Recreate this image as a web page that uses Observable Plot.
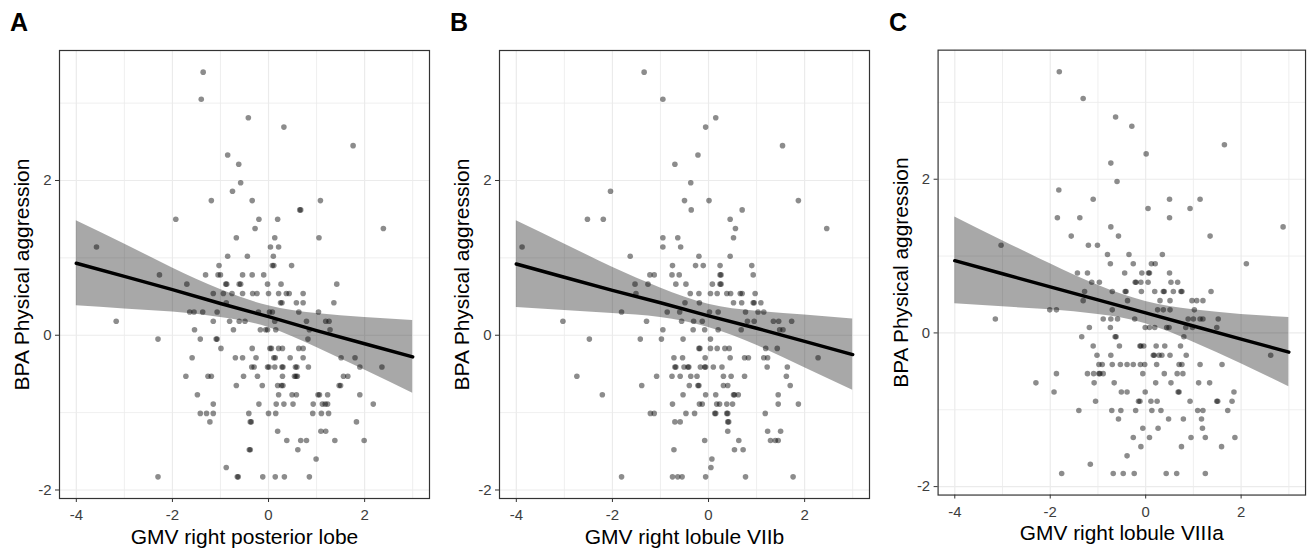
<!DOCTYPE html>
<html>
<head>
<meta charset="utf-8">
<script src="https://cdn.jsdelivr.net/npm/d3@7"></script>
<script src="https://cdn.jsdelivr.net/npm/@observablehq/plot@0.6"></script>
<style>
  html, body { margin: 0; padding: 0; background: #fff; overflow: hidden; }
  #wrap { position: relative; width: 1311px; height: 549px; font-family: "Liberation Sans", Arial, Helvetica, sans-serif; }
  .panel { position: absolute; top: 0; }
  .letter { position: absolute; top: 10px; font-size: 25px; font-weight: bold; line-height: 1; color: #000; }
</style>
</head>
<body>
<div id="wrap"></div>
<script>
// Shared y levels (BPA Physical aggression, same subjects in all panels)
const yLevels = [3.40, 3.05, 2.81, 2.69, 2.45, 2.33, 2.21, 1.97, 1.86, 1.74, 1.62, 1.50, 1.38, 1.26, 1.14, 1.02, 0.90, 0.78, 0.66, 0.54, 0.42, 0.30, 0.18, 0.07, -0.05, -0.17, -0.29, -0.41, -0.53, -0.65, -0.77, -0.89, -1.01, -1.12, -1.24, -1.36, -1.48, -1.60, -1.71, -1.83];

// Panel A: x values per y level (GMV right posterior lobe)
const xA = [
  [-1.36], [-1.40], [-0.42], [0.32], [1.76], [-0.85], [-0.62], [-0.58], [-0.75],
  [-1.19, -0.34, 1.08],
  [0.65, 0.67],
  [-1.93, -0.20, 0.19],
  [-0.28, 2.39],
  [-0.67, 0.13, 1.05],
  [-3.58, 0.04, 0.21],
  [-0.85, -0.44, 0.10],
  [-1.03, 0.08, 0.11, 0.48],
  [-2.27, -1.31, -1.05, -1.00, -0.54, -0.34, -0.10],
  [-1.70, -0.89, -0.87, -0.61, -0.58, -0.02, 0.26, 1.42],
  [-1.15, -0.94, -0.76, -0.54, -0.33, -0.24, 0.00, 0.21, 0.37, 0.43, 0.72],
  [-0.88, 0.25, 0.28, 0.58, 0.72, 1.36],
  [-1.64, -1.55, -1.37, -1.07, -0.21, 0.02, 0.08, 0.63, 1.04],
  [-3.17, -1.15, -0.81, -0.61, -0.49, 0.13, 0.79, 1.19, 1.26],
  [-1.54, -0.73, -0.17, -0.06, -0.02, 0.15, 0.85, 1.28],
  [-2.30, -1.42, -1.09, -1.07, 0.82],
  [-0.99, -0.34, 0.03, 0.06, 0.21, 0.29, 0.63, 0.72],
  [-1.59, -0.69, -0.54, -0.26, 0.11, 0.14, 0.45, 0.72, 1.51, 1.80],
  [-0.35, -0.30, -0.02, 0.01, 0.13, 0.28, 0.30, 0.56, 0.59, 0.83, 1.90, 2.36],
  [-1.72, -1.26, -1.19, -0.52, -0.23, 0.29, 0.54, 0.57, 0.60, 1.56, 1.65],
  [-0.67, -0.13, 0.19, 0.27, 0.30, 1.47, 1.50],
  [-1.48, 0.21, 0.49, 0.58, 1.03, 1.06, 1.23, 1.90],
  [-1.15, -0.20, 0.16, 0.32, 0.51, 0.93, 1.12, 1.18, 1.23, 2.18],
  [-1.42, -1.29, -1.15, -0.41, 0.00, 0.15, 0.92, 1.10, 1.25],
  [-1.22, -0.38, -0.36, 1.83],
  [0.19, 1.09, 1.19],
  [0.38, 0.67, 0.79, 1.38, 1.99],
  [-0.40, -0.38, 0.61],
  [0.99],
  [-0.88],
  [-2.30, -0.65, -0.63, -0.12, 0.14, 0.33, 0.85]
];

// Panel B: x values per y level (GMV right lobule VIIb)
const xB = [
  [-1.34], [-0.95], [0.15], [-0.06], [1.54], [-0.22], [-0.70], [-0.37], [-2.04],
  [-0.50, 0.01, 1.87],
  [-0.36, 0.70],
  [-2.52, -2.19, 0.45],
  [0.56, 2.46],
  [-0.95, -0.64, 0.52],
  [-3.88, -0.95, -0.58],
  [-1.63, -0.20, 0.45],
  [-0.75, -0.27, -0.11, 0.24, 0.90],
  [-1.22, -1.13, -0.76, -0.61, 0.24, 0.26, 0.93],
  [-1.53, -1.26, -0.68, -0.47, 0.08, 0.24, 0.26],
  [-1.51, -0.38, -0.20, 0.04, 0.18, 0.38, 0.46, 0.66, 0.70, 0.97],
  [-0.49, -0.19, 0.52, 0.69, 0.93, 0.95, 1.09],
  [-1.81, -0.86, -0.60, 0.02, 0.20, 0.77, 1.03, 1.15],
  [-3.03, -1.29, -0.56, -0.31, -0.13, 0.81, 0.95, 1.35, 1.46, 1.73],
  [-0.95, -0.32, -0.08, 0.20, 0.68, 1.48, 1.55],
  [-2.48, -1.42, -0.98, -0.53, 0.04],
  [-0.20, -0.18, 0.04, 0.18, 0.34, 0.43, 1.19, 1.43],
  [-0.72, -0.54, -0.07, 0.45, 0.75, 0.83, 1.15, 1.23, 2.28],
  [-0.70, -0.68, -0.51, -0.43, -0.41, -0.17, -0.08, -0.06, 0.10, 0.28, 1.22, 1.64],
  [-2.74, -1.08, -0.76, -0.59, -0.37, -0.24, 0.31, 0.47, 0.75, 1.62],
  [-1.39, -0.40, -0.22, -0.20, 0.31, 0.40, 1.70],
  [-2.21, -0.53, -0.06, 0.15, 0.52, 0.54, 0.62, 1.45],
  [-0.75, -0.19, -0.13, 0.17, 0.23, 0.38, 0.50, 1.45, 1.87],
  [-1.21, -1.13, -0.47, -0.29, 0.13, 0.15, 0.38, 0.40, 1.18],
  [-0.70, -0.59, 0.40, 0.42],
  [0.40, 1.23, 1.50],
  [-0.08, 0.63, 1.29, 1.39, 1.45],
  [-0.72, 0.54, 0.72],
  [0.07],
  [0.05],
  [-1.81, -0.75, -0.64, -0.55, -0.06, 0.77, 1.76]
];

// Panel C: x values per y level (GMV right lobule VIIIa)
const xC = [
  [-1.81], [-1.31], [-0.63], [-0.29], [1.65], [0.01], [-0.73], [-0.60], [-1.82],
  [-1.10, 0.50, 1.14],
  [0.05, 0.93],
  [-1.85, -1.38, 0.50],
  [-0.73, 2.88],
  [-1.56, -0.57, 1.35],
  [-3.03, -1.20, -1.01],
  [-0.80, -0.35, 0.35],
  [-0.74, -0.26, 0.12, 0.20, 2.11],
  [-1.43, -1.22, -0.44, -0.08, 0.06, 0.08, 0.50],
  [-1.13, -0.97, -0.22, -0.20, -0.10, 0.05, 0.53, 0.67],
  [-1.28, -0.70, -0.43, -0.41, -0.09, 0.19, 0.37, 0.39, 0.58, 0.74, 0.76, 1.37],
  [-1.31, -0.38, 0.30, 0.51, 0.97, 1.07, 1.20],
  [-2.01, -1.87, -0.70, 0.25, 0.37, 0.51, 1.02],
  [-3.15, -0.89, -0.73, -0.59, -0.23, 0.89, 1.00, 1.14, 1.20, 1.52],
  [-1.18, -0.74, -0.01, 0.08, 0.19, 0.44, 0.49, 0.84, 0.98, 1.49],
  [-1.34, -0.64, -0.62, 0.80],
  [-1.10, -0.55, -0.12, -0.10, -0.04, 0.22, 0.40, 0.73],
  [-1.02, -0.73, 0.16, 0.18, 0.28, 0.34, 0.51, 0.85, 2.62],
  [-0.98, -0.91, -0.70, -0.53, -0.39, -0.26, -0.11, -0.02, 0.23, 0.70, 0.76, 1.14, 1.60],
  [-1.87, -1.22, -1.09, -0.98, -0.96, -0.89, -0.06, 0.39, 0.66, 0.78],
  [-2.30, -1.08, -0.66, 0.21, 0.53, 1.11, 1.34],
  [-1.92, -0.51, -0.39, -0.01, 0.68, 0.70, 1.85],
  [-1.05, -0.15, -0.12, 0.11, 0.24, 0.93, 1.49, 1.51, 1.81],
  [-1.40, -0.71, -0.52, -0.21, 0.13, 0.32, 1.09, 1.20, 1.72],
  [-0.57, 0.48, 0.79, 1.17],
  [-0.06, 0.26, 1.19],
  [-0.26, 0.08, 0.95, 1.25, 1.87],
  [-0.10, 0.75, 1.59],
  [-0.39],
  [-1.16],
  [-1.76, -0.68, -0.47, -0.24, 0.43, 0.65, 1.25]
];

// Fitted lines and 95% confidence bands, read at these x positions
const fitX = [-4, -3, -2, -1, 0, 1, 2, 3];
const fitA = [0.93, 0.76, 0.59, 0.41, 0.24, 0.06, -0.11, -0.28];
const loA  = [0.38, 0.34, 0.30, 0.23, 0.10, -0.16, -0.45, -0.75];
const hiA  = [1.48, 1.18, 0.87, 0.59, 0.38, 0.28, 0.23, 0.19];
const fitB = [0.92, 0.75, 0.58, 0.42, 0.25, 0.09, -0.08, -0.25];
const loB  = [0.36, 0.32, 0.28, 0.23, 0.10, -0.13, -0.42, -0.71];
const hiB  = [1.48, 1.18, 0.88, 0.61, 0.40, 0.31, 0.26, 0.21];
const fitC = [0.94, 0.77, 0.60, 0.43, 0.26, 0.09, -0.08, -0.25];
const loC  = [0.38, 0.34, 0.30, 0.24, 0.12, -0.12, -0.40, -0.70];
const hiC  = [1.51, 1.20, 0.90, 0.62, 0.41, 0.30, 0.24, 0.20];

// Axis ticks and labels
const xMajor = [-4, -2, 0, 2];
const xMinor = [-3, -1, 1, 3];
const yMajor = [-2, 0, 2];
const yMinor = [-1, 1, 3];
const letters = ["A", "B", "C"];
const xTitles = ["GMV right posterior lobe", "GMV right lobule VIIb", "GMV right lobule VIIIa"];
const yTitle = "BPA Physical aggression";
const panelLeft = [0, 440, 879];

const FONT = '"Liberation Sans", Arial, Helvetica, sans-serif';

function makePanel(xs, fit, lo, hi, xTitle) {
  const pts = yLevels.flatMap((y, i) => xs[i].map(x => ({x, y})));
  const band = fitX.map((x, i) => ({x, fit: fit[i], lo: lo[i], hi: hi[i]}));
  return Plot.plot({
    width: 435,
    height: 549,
    marginLeft: 59,
    marginRight: 6,
    marginTop: 50,
    marginBottom: 51,
    style: {fontFamily: FONT, background: "transparent", overflow: "visible"},
    x: {domain: [-4.35, 3.35]},
    y: {domain: [-2.11, 3.68]},
    marks: [
      Plot.gridX({ticks: xMinor, stroke: "#ebebeb", strokeOpacity: 1, strokeWidth: 0.8}),
      Plot.gridX({ticks: xMajor, stroke: "#ebebeb", strokeOpacity: 1, strokeWidth: 1.2}),
      Plot.gridY({ticks: yMinor, stroke: "#ebebeb", strokeOpacity: 1, strokeWidth: 0.8}),
      Plot.gridY({ticks: yMajor, stroke: "#ebebeb", strokeOpacity: 1, strokeWidth: 1.2}),
      Plot.dot(pts, {x: "x", y: "y", r: 2.8, fill: "black", fillOpacity: 0.45, stroke: null}),
      Plot.areaY(band, {x: "x", y1: "lo", y2: "hi", fill: "black", fillOpacity: 0.34, curve: "natural"}),
      Plot.line(band, {x: "x", y: "fit", stroke: "black", strokeWidth: 3.5, curve: "linear"}),
      Plot.frame({stroke: "#333", strokeWidth: 1.2}),
      Plot.axisX({ticks: xMajor, tickSize: 4, stroke: "#333", label: null, tickFormat: () => ""}),
      Plot.axisY({ticks: yMajor, tickSize: 4, stroke: "#333", label: null, tickFormat: () => ""}),
      Plot.text(xMajor, {x: d => d, text: d => String(d), frameAnchor: "bottom", lineAnchor: "middle", textAnchor: "middle", dy: 17, fontSize: 15, fill: "#3d3d3d"}),
      Plot.text(yMajor, {y: d => d, text: d => String(d), frameAnchor: "left", lineAnchor: "middle", textAnchor: "end", dx: -8, fontSize: 15, fill: "#3d3d3d"}),
      Plot.text([xTitle], {text: d => d, frameAnchor: "bottom", lineAnchor: "middle", textAnchor: "middle", dy: 39, fontSize: 21, fill: "#000"}),
      Plot.text([yTitle], {text: d => d, frameAnchor: "left", textAnchor: "middle", lineAnchor: "middle", dx: -37, rotate: -90, fontSize: 21, fill: "#000"})
    ]
  });
}

const wrap = document.getElementById("wrap");
const panels = [[xA, fitA, loA, hiA], [xB, fitB, loB, hiB], [xC, fitC, loC, hiC]];
panels.forEach((p, i) => {
  const div = document.createElement("div");
  div.className = "panel";
  div.style.left = panelLeft[i] + "px";
  div.appendChild(makePanel(p[0], p[1], p[2], p[3], xTitles[i]));
  const lab = document.createElement("div");
  lab.className = "letter";
  lab.style.left = "10px";
  lab.textContent = letters[i];
  div.appendChild(lab);
  wrap.appendChild(div);
});
</script>
</body>
</html>
